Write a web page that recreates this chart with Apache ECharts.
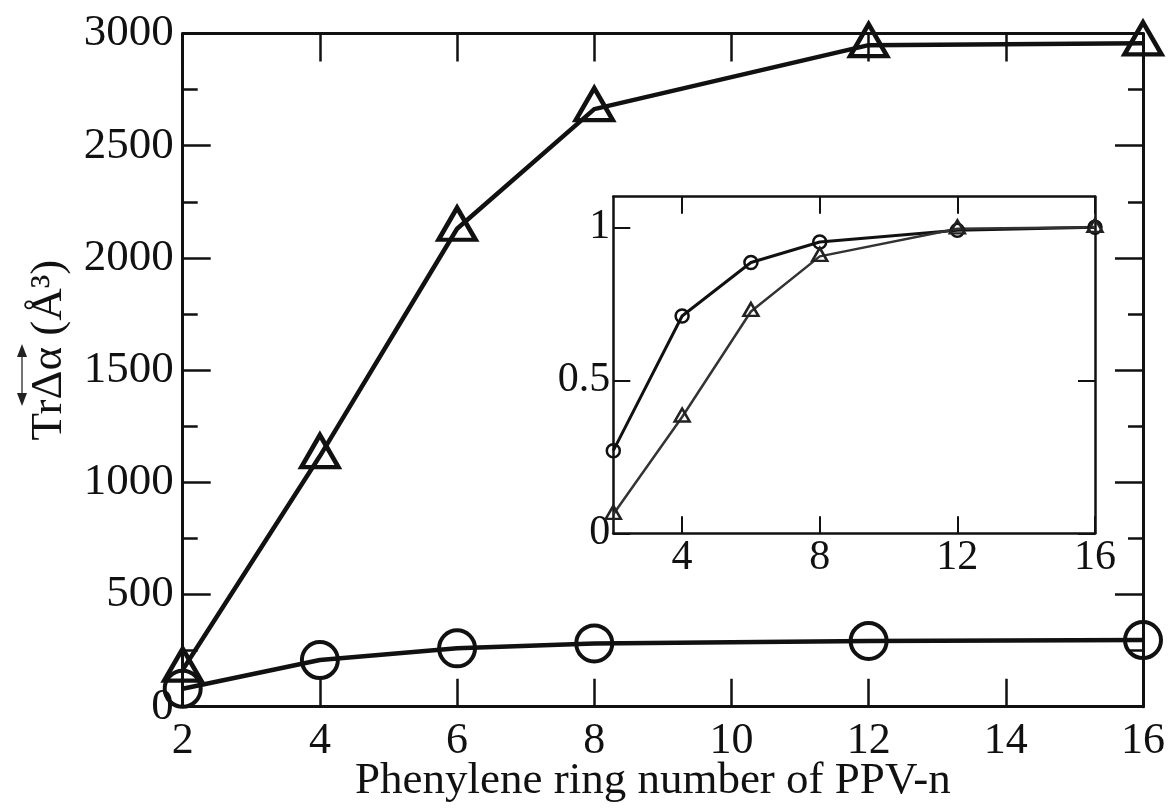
<!DOCTYPE html>
<html>
<head>
<meta charset="utf-8">
<script src="https://cdn.jsdelivr.net/npm/echarts@6/dist/echarts.min.js"></script>
<style>
html,body{margin:0;padding:0;background:#fff;}
#chart{width:1174px;height:810px;}
</style>
</head>
<body>
<div id="chart"></div>
<script>
// ---- data ----
const ringNumbers = [2, 4, 6, 8, 12, 16];
const triangleValues = [165, 1117, 2130, 2663, 2948, 2956];
const circleValues = [80, 208, 260, 282, 293, 297];
const insetCircleValues = [0.27, 0.71, 0.885, 0.952, 0.99, 1.0];
const insetTriangleValues = [0.062, 0.38, 0.725, 0.905, 0.995, 1.0];
const insetXTicks = [4, 8, 12, 16];
const insetYTicks = [0, 0.5, 1];
const xTitle = 'Phenylene ring number of PPV-n';
const yTitle = 'TrΔα (Å³)';

const pairs = (xs, ys) => xs.map((x, i) => [x, ys[i]]);
const FONT = 'Liberation Serif';
const INK = '#111';
const plain = v => String(v);

const chart = echarts.init(document.getElementById('chart'), null, {renderer: 'canvas'});

const mainAxisCommon = {
  type: 'value',
  axisLine: {show: true, onZero: false, lineStyle: {color: INK, width: 3}},
  axisTick: {show: true, inside: true, length: 28, lineStyle: {color: INK, width: 2.5}},
  splitLine: {show: false}
};
const insetAxisCommon = {
  type: 'value',
  axisLine: {show: true, onZero: false, lineStyle: {color: INK, width: 2.5}},
  axisTick: {show: true, inside: true, length: 17, lineStyle: {color: INK, width: 2}},
  splitLine: {show: false}
};

const option = {
  backgroundColor: '#fff',
  animation: false,
  grid: [
    {left: 182.7, right: 31, top: 33.5, bottom: 103.3, containLabel: false, outerBoundsMode: 'none'},
    {left: 613.3, right: 79, top: 196.7, bottom: 276.7, containLabel: false, outerBoundsMode: 'none',
     show: true, backgroundColor: '#fff', borderWidth: 0}
  ],
  xAxis: [
    Object.assign({}, mainAxisCommon, {
      gridIndex: 0, position: 'bottom', min: 2, max: 16, interval: 2,
      axisLabel: {show: true, margin: 13, fontFamily: FONT, fontSize: 44, color: INK, formatter: plain},
      name: xTitle, nameLocation: 'middle', nameGap: 52, nameMoveOverlap: false,
      nameTextStyle: {fontFamily: FONT, fontSize: 45, color: INK, padding: [0, 20, 0, 0]}
    }),
    Object.assign({}, mainAxisCommon, {
      gridIndex: 0, position: 'top', min: 2, max: 16, interval: 2,
      axisLabel: {show: false}
    }),
    Object.assign({}, insetAxisCommon, {
      gridIndex: 1, position: 'bottom', min: 2, max: 16,
      axisTick: Object.assign({}, insetAxisCommon.axisTick, {customValues: insetXTicks}),
      axisLabel: {show: true, customValues: insetXTicks, margin: 4, fontFamily: FONT, fontSize: 42, color: INK, formatter: plain}
    }),
    Object.assign({}, insetAxisCommon, {
      gridIndex: 1, position: 'top', min: 2, max: 16,
      axisTick: Object.assign({}, insetAxisCommon.axisTick, {customValues: insetXTicks}),
      axisLabel: {show: false}
    })
  ],
  yAxis: [
    Object.assign({}, mainAxisCommon, {
      gridIndex: 0, position: 'left', min: 0, max: 3000, interval: 500,
      minorTick: {show: true, splitNumber: 2, length: 15, lineStyle: {color: INK, width: 2.5}},
      axisLabel: {show: true, margin: 9, fontFamily: FONT, fontSize: 45, color: INK, formatter: plain},
      name: yTitle, nameLocation: 'middle', nameGap: 111, nameRotate: 90, nameMoveOverlap: false,
      nameTextStyle: {fontFamily: FONT, fontSize: 45, color: INK, padding: [0, 0, 0, 40]}
    }),
    Object.assign({}, mainAxisCommon, {
      gridIndex: 0, position: 'right', min: 0, max: 3000, interval: 500,
      minorTick: {show: true, splitNumber: 2, length: 15, lineStyle: {color: INK, width: 2.5}},
      axisLabel: {show: false}
    }),
    Object.assign({}, insetAxisCommon, {
      gridIndex: 1, position: 'left', min: 0, max: 1.1,
      axisTick: Object.assign({}, insetAxisCommon.axisTick, {customValues: insetYTicks}),
      axisLabel: {show: true, customValues: insetYTicks, margin: 3, fontFamily: FONT, fontSize: 42, color: INK, formatter: plain}
    }),
    Object.assign({}, insetAxisCommon, {
      gridIndex: 1, position: 'right', min: 0, max: 1.1,
      axisTick: Object.assign({}, insetAxisCommon.axisTick, {customValues: insetYTicks}),
      axisLabel: {show: false}
    })
  ],
  series: [
    {
      type: 'line', xAxisIndex: 0, yAxisIndex: 0,
      data: pairs(ringNumbers, triangleValues),
      symbol: 'triangle', symbolSize: [37, 32], symbolOffset: [0, -5],
      lineStyle: {color: INK, width: 4.5},
      itemStyle: {color: 'rgba(0,0,0,0)', borderColor: INK, borderWidth: 4.5},
      z: 3
    },
    {
      type: 'line', xAxisIndex: 0, yAxisIndex: 0,
      data: pairs(ringNumbers, circleValues),
      symbol: 'circle', symbolSize: 36,
      lineStyle: {color: INK, width: 4.5},
      itemStyle: {color: 'rgba(0,0,0,0)', borderColor: INK, borderWidth: 4},
      z: 3
    },
    {
      type: 'line', xAxisIndex: 2, yAxisIndex: 2,
      data: pairs(ringNumbers, insetCircleValues),
      symbol: 'circle', symbolSize: 13,
      lineStyle: {color: INK, width: 3},
      itemStyle: {color: 'rgba(0,0,0,0)', borderColor: INK, borderWidth: 2.5},
      z: 4
    },
    {
      type: 'line', xAxisIndex: 2, yAxisIndex: 2,
      data: pairs(ringNumbers, insetTriangleValues),
      symbol: 'triangle', symbolSize: [15, 13], symbolOffset: [0, -2],
      lineStyle: {color: '#333', width: 2.5},
      itemStyle: {color: 'rgba(0,0,0,0)', borderColor: '#222', borderWidth: 2.5},
      z: 4
    }
  ],
  graphic: [
    {type: 'line', shape: {x1: 22, y1: 352, x2: 22, y2: 398}, style: {stroke: '#444', lineWidth: 1.5}},
    {type: 'polygon', shape: {points: [[22, 344], [17, 357], [27, 357]]}, style: {fill: '#222'}},
    {type: 'polygon', shape: {points: [[22, 406], [17, 393], [27, 393]]}, style: {fill: '#222'}}
  ]
};

chart.setOption(option);
</script>
</body>
</html>
